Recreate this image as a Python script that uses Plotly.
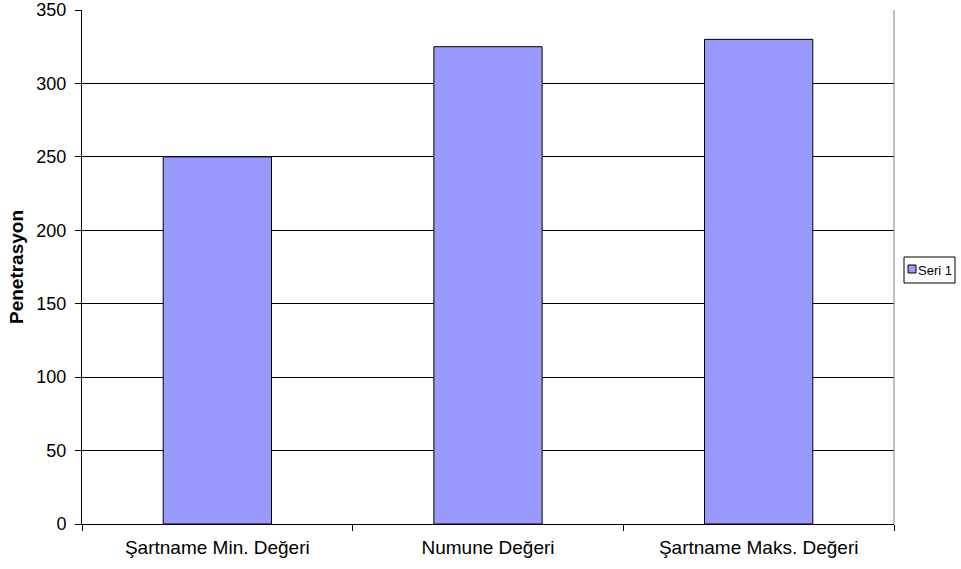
import plotly.graph_objects as go

categories = ["Şartname Min. Değeri", "Numune Değeri", "Şartname Maks. Değeri"]
values = [250, 325, 330]
y_ticks = [0, 50, 100, 150, 200, 250, 300, 350]
series_name = "Seri 1"
bar_color = "#9999FF"

fig = go.Figure()
fig.add_trace(go.Bar(
    x=categories, y=values, name=series_name,
    marker=dict(color=bar_color, line=dict(color="#000000", width=1)),
    showlegend=False,
))

fig.update_layout(
    width=961, height=569,
    margin=dict(l=82, r=67, t=10, b=45, autoexpand=False),
    paper_bgcolor="white", plot_bgcolor="white",
    bargap=0.6,
    font=dict(family="Liberation Sans, Arial, sans-serif", color="#000000"),
    showlegend=False,
)

fig.update_xaxes(
    tickson="boundaries", ticks="outside", ticklen=6, tickcolor="#000000",
    showline=True, linecolor="#000000", linewidth=1,
    tickfont=dict(size=19), showgrid=False, ticklabelstandoff=6,
)
fig.update_yaxes(
    range=[0, 350], tickvals=y_ticks, ticks="outside", ticklen=6,
    tickcolor="#000000", showline=True, linecolor="#000000", linewidth=1,
    showgrid=True, gridcolor="#000000", gridwidth=1,
    zeroline=False, tickfont=dict(size=18), ticklabelstandoff=5,
    title=dict(text="<b>Penetrasyon</b>", font=dict(size=19), standoff=7),
)

# right-hand edge of the plotting area
fig.add_shape(type="line", xref="paper", yref="paper", x0=1, x1=1, y0=0, y1=1,
              line=dict(color="#808080", width=1))

# legend box drawn in pixel-based paper coordinates
pw, ph = 961 - 82 - 67, 569 - 10 - 45
def px(x):
    return (x - 82) / pw
def py(y):
    return (524 - y) / ph

fig.add_shape(type="rect", xref="paper", yref="paper",
              x0=px(904), x1=px(955), y0=py(283), y1=py(257),
              line=dict(color="#000000", width=1), fillcolor="white")
fig.add_shape(type="rect", xref="paper", yref="paper",
              x0=px(908), x1=px(916), y0=py(273), y1=py(265),
              line=dict(color="#000000", width=1), fillcolor=bar_color)
fig.add_annotation(xref="paper", yref="paper", x=px(916), y=py(270),
                   xanchor="left", yanchor="middle", showarrow=False,
                   text=series_name, font=dict(size=13))

fig.write_html("out.html")
